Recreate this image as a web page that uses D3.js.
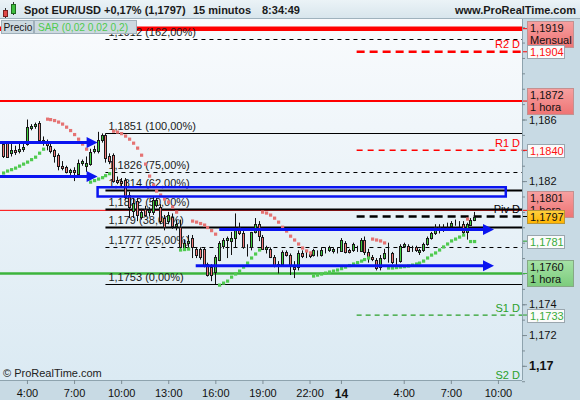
<!DOCTYPE html>
<html>
<head>
<meta charset="utf-8">
<script src="https://cdn.jsdelivr.net/npm/d3@7"></script>
<style>
  body { margin: 0; background: #fff; }
  svg { display: block; font-family: "Liberation Sans", Arial, sans-serif; }
</style>
</head>
<body>
<div id="chart"></div>
<script>
/* global d3 */

// 15 minute bars, first one at 13th 2:30, last one at 14th 8:30
const firstBar = new Date(2017, 8, 13, 2, 30)

const opens = [
  1.1844, 1.1845, 1.1838, 1.1840, 1.1840, 1.1841, 1.1844, 1.1855, 1.1856, 1.1858,
  1.1847, 1.1845, 1.1843, 1.1840, 1.1837, 1.1830, 1.1829, 1.1826, 1.1827, 1.1825,
  1.1832, 1.1830, 1.1831, 1.1840, 1.1840, 1.1847, 1.1850, 1.1836, 1.1837, 1.1821,
  1.1820, 1.1821, 1.1811, 1.1801, 1.1807, 1.1797, 1.1802, 1.1800, 1.1800, 1.1805,
  1.1803, 1.1796, 1.1794, 1.1797, 1.1791, 1.1790, 1.1777, 1.1780, 1.1783, 1.1776,
  1.1776, 1.1776, 1.1766, 1.1764, 1.1761, 1.1769, 1.1778, 1.1782, 1.1781, 1.1783,
  1.1790, 1.1786, 1.1777, 1.1777, 1.1787, 1.1792, 1.1784, 1.1776, 1.1776, 1.1771,
  1.1766, 1.1766, 1.1774, 1.1772, 1.1764, 1.1764, 1.1773, 1.1772, 1.1773, 1.1772,
  1.1773, 1.1772, 1.1775, 1.1775, 1.1775, 1.1775, 1.1775, 1.1780, 1.1775, 1.1775,
  1.1776, 1.1775, 1.1782, 1.1774, 1.1771, 1.1769, 1.1764, 1.1770, 1.1772, 1.1773,
  1.1768, 1.1768, 1.1778, 1.1778, 1.1776, 1.1777, 1.1774, 1.1775, 1.1779, 1.1783,
  1.1786, 1.1789, 1.1790, 1.1791, 1.1791, 1.1793, 1.1792, 1.1792, 1.1787, 1.1792,
  1.1795
]
const highs = [
  1.1846, 1.1846, 1.1845, 1.1843, 1.1845, 1.1846, 1.1860, 1.1857, 1.1858, 1.1859,
  1.1849, 1.1847, 1.1845, 1.1841, 1.1838, 1.1833, 1.1830, 1.1828, 1.1829, 1.1834,
  1.1834, 1.1836, 1.1841, 1.1843, 1.1852, 1.1851, 1.1851, 1.1838, 1.1838, 1.1823,
  1.1822, 1.1822, 1.1813, 1.1809, 1.1809, 1.1802, 1.1804, 1.1803, 1.1810, 1.1809,
  1.1805, 1.1798, 1.1800, 1.1799, 1.1795, 1.1795, 1.1782, 1.1785, 1.1785, 1.1777,
  1.1777, 1.1777, 1.1767, 1.1766, 1.1772, 1.1781, 1.1783, 1.1784, 1.1787, 1.1799,
  1.1793, 1.1788, 1.1779, 1.1787, 1.1796, 1.1794, 1.1785, 1.1778, 1.1777, 1.1772,
  1.1768, 1.1775, 1.1775, 1.1773, 1.1768, 1.1775, 1.1775, 1.1774, 1.1774, 1.1776,
  1.1775, 1.1777, 1.1777, 1.1778, 1.1777, 1.1777, 1.1783, 1.1781, 1.1776, 1.1780,
  1.1778, 1.1783, 1.1784, 1.1776, 1.1772, 1.1770, 1.1772, 1.1776, 1.1780, 1.1774,
  1.1770, 1.1779, 1.1780, 1.1779, 1.1778, 1.1778, 1.1776, 1.1780, 1.1784, 1.1787,
  1.1792, 1.1792, 1.1792, 1.1793, 1.1794, 1.1795, 1.1794, 1.1794, 1.1793, 1.1796,
  1.1800
]
const lows = [
  1.1835, 1.1835, 1.1836, 1.1837, 1.1838, 1.1839, 1.1843, 1.1853, 1.1854, 1.1846,
  1.1843, 1.1840, 1.1838, 1.1832, 1.1827, 1.1827, 1.1825, 1.1824, 1.1820, 1.1824,
  1.1830, 1.1826, 1.1830, 1.1838, 1.1838, 1.1845, 1.1832, 1.1831, 1.1819, 1.1818,
  1.1816, 1.1808, 1.1796, 1.1796, 1.1794, 1.1795, 1.1797, 1.1797, 1.1798, 1.1803,
  1.1792, 1.1788, 1.1792, 1.1789, 1.1788, 1.1776, 1.1776, 1.1777, 1.1770, 1.1770,
  1.1769, 1.1764, 1.1758, 1.1755, 1.1753, 1.1768, 1.1776, 1.1770, 1.1772, 1.1777,
  1.1785, 1.1776, 1.1771, 1.1775, 1.1786, 1.1781, 1.1776, 1.1773, 1.1770, 1.1764,
  1.1760, 1.1765, 1.1771, 1.1759, 1.1757, 1.1762, 1.1770, 1.1770, 1.1770, 1.1771,
  1.1771, 1.1771, 1.1773, 1.1774, 1.1773, 1.1773, 1.1774, 1.1773, 1.1773, 1.1774,
  1.1774, 1.1774, 1.1772, 1.1767, 1.1768, 1.1762, 1.1762, 1.1769, 1.1767, 1.1766,
  1.1765, 1.1767, 1.1777, 1.1774, 1.1774, 1.1774, 1.1772, 1.1774, 1.1778, 1.1782,
  1.1785, 1.1786, 1.1787, 1.1788, 1.1790, 1.1791, 1.1790, 1.1785, 1.1782, 1.1791,
  1.1794
]
const closes = [
  1.1836, 1.1836, 1.1840, 1.1839, 1.1841, 1.1842, 1.1855, 1.1856, 1.1857, 1.1847,
  1.1845, 1.1844, 1.1840, 1.1836, 1.1830, 1.1829, 1.1826, 1.1827, 1.1826, 1.1832,
  1.1833, 1.1832, 1.1839, 1.1841, 1.1847, 1.1850, 1.1835, 1.1833, 1.1820, 1.1820,
  1.1819, 1.1810, 1.1803, 1.1806, 1.1798, 1.1800, 1.1798, 1.1801, 1.1808, 1.1808,
  1.1794, 1.1790, 1.1798, 1.1791, 1.1792, 1.1777, 1.1780, 1.1781, 1.1777, 1.1772,
  1.1771, 1.1765, 1.1759, 1.1759, 1.1771, 1.1780, 1.1782, 1.1783, 1.1783, 1.1789,
  1.1786, 1.1777, 1.1777, 1.1787, 1.1792, 1.1784, 1.1776, 1.1777, 1.1771, 1.1766,
  1.1765, 1.1774, 1.1772, 1.1765, 1.1763, 1.1773, 1.1771, 1.1772, 1.1771, 1.1775,
  1.1773, 1.1775, 1.1775, 1.1777, 1.1776, 1.1775, 1.1782, 1.1774, 1.1774, 1.1779,
  1.1776, 1.1782, 1.1774, 1.1771, 1.1770, 1.1764, 1.1770, 1.1773, 1.1772, 1.1767,
  1.1768, 1.1778, 1.1779, 1.1775, 1.1776, 1.1775, 1.1775, 1.1779, 1.1783, 1.1786,
  1.1790, 1.1790, 1.1790, 1.1791, 1.1793, 1.1793, 1.1792, 1.1787, 1.1792, 1.1795,
  1.1797
]
// parabolic SAR (0,02 0,02 0,2), one value per bar
const sar = [
  1.18253, 1.18266, 1.18275, 1.18285, 1.18298, 1.18311, 1.18324, 1.18340, 1.18356, 1.18382,
  1.18408, 1.18603, 1.18600, 1.18594, 1.18584, 1.18571, 1.18551, 1.18529, 1.18503, 1.18473,
  1.18441, 1.18408, 1.18194, 1.18204, 1.18214, 1.18223, 1.18236, 1.18249, 1.18525, 1.18519,
  1.18509, 1.18493, 1.18473, 1.18447, 1.18415, 1.18369, 1.18311, 1.18233, 1.18175, 1.18136,
  1.18110, 1.18084, 1.18064, 1.18032, 1.17999, 1.17753, 1.17756, 1.17759, 1.17941, 1.17934,
  1.17925, 1.17915, 1.17899, 1.17879, 1.17856, 1.17525, 1.17538, 1.17551, 1.17577, 1.17597,
  1.17616, 1.17642, 1.17668, 1.17701, 1.17727, 1.17753, 1.17999, 1.17993, 1.17980, 1.17960,
  1.17934, 1.17901, 1.17876, 1.17843, 1.17818, 1.17792, 1.17766, 1.17747, 1.17734, 1.17584,
  1.17590, 1.17597, 1.17603, 1.17610, 1.17616, 1.17623, 1.17632, 1.17642, 1.17652, 1.17662,
  1.17671, 1.17681, 1.17691, 1.17701, 1.17824, 1.17818, 1.17812, 1.17799, 1.17636, 1.17636,
  1.17639, 1.17642, 1.17645, 1.17649, 1.17655, 1.17662, 1.17668, 1.17681, 1.17701, 1.17720,
  1.17734, 1.17753, 1.17773, 1.17792, 1.17812, 1.17824, 1.17837, 1.17850, 1.17954, 1.17808,
  1.17808
]

// Fibonacci retracement drawn from the 9:00 bar
const fibStart = new Date(2017, 8, 13, 9, 0)
const fibPcts = [0, 25, 38, 50, 62, 75, 100, 162]
const fibPrices = [1.1753, 1.1777, 1.179, 1.1802, 1.1814, 1.1826, 1.1851, 1.1912]

// daily pivots, start at 14th 1:00
const pivotStart = new Date(2017, 8, 14, 1, 0)
const pivotNames = ['R2 D', 'R1 D', 'Piv D', 'S1 D', 'S2 D']
const pivotPrices = [1.1904, 1.1840, 1.1797, 1.1733, 1.1689]

// full width levels (monthly / hourly)
const levelPrices = [1.1919, 1.1872, 1.1801, 1.1760]

// price boxes on the right axis
const boxPrices = [1.1919, 1.1904, 1.1872, 1.1840, 1.1801, 1.1797, 1.1781, 1.1760, 1.1733]
const boxSubs = ['Mensual', '', '1 hora', '', '1 hora', '', '', '1 hora', '']
const boxKinds = ['red', 'redText', 'red', 'redText', 'red', 'last', 'greenText', 'green', 'greenText']

// hand drawn blue objects
const arrowPrices = [1.1845, 1.1823, 1.17885, 1.1765]
const arrowFrom = [new Date(2017, 8, 13, 1, 0), new Date(2017, 8, 13, 1, 0), new Date(2017, 8, 13, 16, 15), new Date(2017, 8, 13, 14, 45)]
const arrowTo = [new Date(2017, 8, 13, 8, 30), new Date(2017, 8, 13, 8, 30), new Date(2017, 8, 14, 9, 45), new Date(2017, 8, 14, 9, 45)]
const zonePrices = [1.1816, 1.1810]
const zoneFrom = new Date(2017, 8, 13, 8, 30)
const zoneTo = new Date(2017, 8, 14, 10, 30)

// time axis ticks
const xTicks = [
  new Date(2017, 8, 13, 4), new Date(2017, 8, 13, 7), new Date(2017, 8, 13, 10),
  new Date(2017, 8, 13, 13), new Date(2017, 8, 13, 16), new Date(2017, 8, 13, 19),
  new Date(2017, 8, 13, 22), new Date(2017, 8, 14, 0), new Date(2017, 8, 14, 4),
  new Date(2017, 8, 14, 7), new Date(2017, 8, 14, 10)
]

const W = 580
const H = 400
const plot = { left: 0, top: 19, right: 522, bottom: 380 }

const x = d3.scaleTime()
  .domain([new Date(2017, 8, 13, 2, 17), new Date(2017, 8, 14, 11, 32)])
  .range([plot.left, plot.right])
const y = d3.scaleLinear()
  .domain([1.16908, 1.19253])
  .range([plot.bottom, plot.top])

const fmtP = v => String(+v.toFixed(4)).replace('.', ',')
const fmtBox = v => v.toFixed(4).replace('.', ',')
const bars = opens.map((o, i) => ({
  t: new Date(firstBar.getTime() + i * 9e5), o, h: highs[i], l: lows[i], c: closes[i], s: sar[i]
}))

const svg = d3.select('#chart').append('svg')
  .attr('width', W)
  .attr('height', H)

const defs = svg.append('defs')
const grad = (id, a, b) => {
  const g = defs.append('linearGradient').attr('id', id).attr('x1', 0).attr('y1', 0).attr('x2', 0).attr('y2', 1)
  g.append('stop').attr('offset', '0%').attr('stop-color', a)
  g.append('stop').attr('offset', '100%').attr('stop-color', b)
}
grad('bgPlot', '#f9fbfd', '#dbeaf3')
grad('bgHead', '#ebf3f7', '#d7e5ec')
grad('bgRed', '#f7a0a0', '#ee7474')
grad('bgGreen', '#a6e2a6', '#7ccc7c')
grad('bgLast', '#ffd040', '#ffb400')
defs.append('clipPath').attr('id', 'clipPlot')
  .append('rect')
  .attr('x', plot.left).attr('y', plot.top)
  .attr('width', plot.right - plot.left).attr('height', plot.bottom - plot.top)

// backgrounds
svg.append('rect').attr('width', W).attr('height', H).attr('fill', '#c8dae4')
svg.append('rect')
  .attr('x', plot.left).attr('y', plot.top)
  .attr('width', plot.right - plot.left).attr('height', plot.bottom - plot.top)
  .attr('fill', 'url(#bgPlot)')

const g = svg.append('g').attr('clip-path', 'url(#clipPlot)')

// full width levels
const levelColor = ['#ff0000', '#ff0000', '#ff0000', '#3cb43c']
const levelWidth = [4.5, 2, 1, 2.5]
g.selectAll('line.level').data(levelPrices).join('line')
  .attr('x1', plot.left).attr('x2', plot.right)
  .attr('y1', d => y(d)).attr('y2', d => y(d))
  .attr('stroke', (d, i) => levelColor[i])
  .attr('stroke-width', (d, i) => levelWidth[i])

// fibonacci
const fibDashed = [25, 75, 162]
const fibThick = [38, 50, 62]
const fx = x(fibStart)
g.selectAll('line.fib').data(fibPrices).join('line')
  .attr('x1', fx).attr('x2', plot.right)
  .attr('y1', d => Math.round(y(d)) + 0.5).attr('y2', d => Math.round(y(d)) + 0.5)
  .attr('stroke', '#000')
  .attr('stroke-width', (d, i) => fibThick.includes(fibPcts[i]) ? 2 : 1)
  .attr('stroke-dasharray', (d, i) => fibDashed.includes(fibPcts[i]) ? '4,4' : null)
g.selectAll('text.fib').data(fibPrices).join('text')
  .attr('x', fx + 3)
  .attr('y', d => y(d) - 3)
  .attr('font-size', 11)
  .attr('fill', '#1a1a1a')
  .text((d, i) => `${fmtP(d)} (${fibPcts[i]},00%)`)

// pivots
const pivotColor = ['#ff0000', '#ff0000', '#000', '#2aa02a', '#2aa02a']
const pivotWidth = [2.5, 1.5, 2.5, 1.2, 1.2]
const pivotDash = ['8,5', '6,5', '8,5', '5,4', '5,4']
const px = x(pivotStart)
g.selectAll('line.pivot').data(pivotPrices).join('line')
  .attr('x1', px).attr('x2', plot.right)
  .attr('y1', d => y(d)).attr('y2', d => y(d))
  .attr('stroke', (d, i) => pivotColor[i])
  .attr('stroke-width', (d, i) => pivotWidth[i])
  .attr('stroke-dasharray', (d, i) => pivotDash[i])
g.selectAll('text.pivot').data(pivotPrices).join('text')
  .attr('x', plot.right - 2)
  .attr('y', d => Math.min(y(d) - 3.5, plot.bottom - 1))
  .attr('text-anchor', 'end')
  .attr('font-size', 11)
  .attr('fill', (d, i) => pivotColor[i])
  .text((d, i) => pivotNames[i])

// candles
const cx = d => Math.round(x(d.t))
g.append('g').selectAll('line').data(bars).join('line')
  .attr('x1', d => cx(d) + 0.5).attr('x2', d => cx(d) + 0.5)
  .attr('y1', d => y(d.h)).attr('y2', d => y(d.l))
  .attr('stroke', '#111')
g.append('g').selectAll('rect').data(bars).join('rect')
  .attr('x', d => cx(d) - 0.5)
  .attr('width', 2)
  .attr('y', d => Math.round(y(Math.max(d.o, d.c))) + 0.5)
  .attr('height', d => Math.max(0, Math.round(Math.abs(y(d.o) - y(d.c)))))
  .attr('fill', d => d.c > d.o ? '#3fd03f' : (d.c < d.o ? '#f07878' : '#111'))
  .attr('stroke', '#1a1a1a')
  .attr('stroke-width', 1)

// SAR dots
g.append('g').selectAll('rect').data(bars).join('rect')
  .attr('x', d => cx(d) - 1)
  .attr('y', d => y(d.s) - 1.5)
  .attr('width', 3.2).attr('height', 3.2)
  .attr('fill', d => d.s > d.c ? '#e57373' : '#4fca4f')

// blue zone and arrows
const blue = '#0a14f0'
g.append('rect')
  .attr('x', x(zoneFrom)).attr('y', y(zonePrices[0]))
  .attr('width', x(zoneTo) - x(zoneFrom))
  .attr('height', y(zonePrices[1]) - y(zonePrices[0]))
  .attr('fill', 'none').attr('stroke', blue).attr('stroke-width', 2.5)
arrowPrices.forEach((p, i) => {
  const x0 = x(arrowFrom[i])
  const x1 = x(arrowTo[i])
  const yy = y(p)
  g.append('line')
    .attr('x1', x0).attr('x2', x1 - 8)
    .attr('y1', yy).attr('y2', yy)
    .attr('stroke', blue).attr('stroke-width', 3)
  g.append('path')
    .attr('d', `M${x1},${yy} L${x1 - 11},${yy - 5.5} L${x1 - 11},${yy + 5.5} Z`)
    .attr('fill', blue)
})

// copyright
svg.append('text')
  .attr('x', 3).attr('y', 377)
  .attr('font-size', 11).attr('fill', '#222')
  .text('\u00a9 ProRealTime.com')

// frame lines
svg.append('line')
  .attr('x1', plot.right + 0.5).attr('x2', plot.right + 0.5)
  .attr('y1', plot.top).attr('y2', plot.bottom)
  .attr('stroke', '#8ea3ae')
svg.append('line')
  .attr('x1', 0).attr('x2', plot.right)
  .attr('y1', plot.bottom + 0.5).attr('y2', plot.bottom + 0.5)
  .attr('stroke', '#8ea3ae')

// time axis
const xAxis = svg.append('g')
  .attr('transform', `translate(0,${plot.bottom})`)
  .call(d3.axisBottom(x)
    .tickValues(xTicks)
    .tickSize(4)
    .tickPadding(5)
    .tickFormat(d => d.getHours() === 0 ? String(d.getDate()) : d3.timeFormat('%-H:%M')(d)))
xAxis.select('.domain').remove()
xAxis.selectAll('line').attr('stroke', '#7d8d96')
xAxis.selectAll('text')
  .attr('font-family', '"Liberation Sans", Arial, sans-serif')
  .attr('fill', '#111')
  .attr('font-weight', d => d.getHours() === 0 ? 'bold' : null)
  .attr('font-size', d => d.getHours() === 0 ? 12 : 11)

// price box layout (computed first so covered tick labels can be left out)
const boxes = boxPrices.map((p, i) => {
  const two = boxSubs[i] !== ''
  const h = two ? 26 : 13
  const nudge = i === 4 ? -6 : 0 // the 1,1801 box is pushed up by the last price box
  let top = y(p) - h / 2 + nudge
  if (top < plot.top + 2) top = plot.top + 2
  return { p, i, two, h, w: two ? 46 : 37, top: Math.round(top) }
})
const covered = v => boxes.some(b => y(v) > b.top - 3 && y(v) < b.top + b.h + 3)

// price axis
const minor = svg.append('g')
  .attr('transform', `translate(${plot.right},0)`)
  .call(d3.axisRight(y).tickValues(d3.range(1.169, 1.1925, 0.001)).tickSize(3).tickFormat(''))
minor.select('.domain').remove()
minor.selectAll('line').attr('stroke', '#7d8d96')
const yAxis = svg.append('g')
  .attr('transform', `translate(${plot.right},0)`)
  .call(d3.axisRight(y)
    .tickValues(d3.range(1.17, 1.1925, 0.002).filter(v => !covered(v)))
    .tickSize(5)
    .tickPadding(2)
    .tickFormat(d => String(+d.toFixed(3)).replace('.', ',')))
yAxis.select('.domain').remove()
yAxis.selectAll('line').attr('stroke', '#7d8d96')
const isRound = d => Math.abs(d * 100 - Math.round(d * 100)) < 1e-6
yAxis.selectAll('text')
  .attr('font-family', '"Liberation Sans", Arial, sans-serif')
  .attr('fill', '#111')
  .attr('font-size', d => isRound(d) ? 12.5 : 11)
  .attr('font-weight', d => isRound(d) ? 'bold' : null)

// price boxes
const boxStyle = {
  red: { fill: 'url(#bgRed)', stroke: '#c49090', text: '#111', tick: '#ff0000' },
  redText: { fill: '#fbfbfb', stroke: '#9aa6ae', text: '#ff1010', tick: '#ff0000' },
  last: { fill: 'url(#bgLast)', stroke: '#b8963a', text: '#111', tick: '#000' },
  green: { fill: 'url(#bgGreen)', stroke: '#86a886', text: '#111', tick: '#3cb43c' },
  greenText: { fill: '#fbfbfb', stroke: '#9aa6ae', text: '#3aaa3a', tick: '#2aa02a' }
}
const boxG = svg.append('g').attr('font-size', 11)
boxes.forEach(b => {
  const st = boxStyle[boxKinds[b.i]]
  const yc = y(b.p)
  boxG.append('line')
    .attr('x1', plot.right + 1).attr('x2', plot.right + 5)
    .attr('y1', yc).attr('y2', yc)
    .attr('stroke', st.tick)
  boxG.append('rect')
    .attr('x', plot.right + 5.5).attr('y', b.top + 0.5)
    .attr('width', b.w).attr('height', b.h)
    .attr('fill', st.fill).attr('stroke', st.stroke)
  boxG.append('text')
    .attr('x', plot.right + 8).attr('y', b.top + 11)
    .attr('fill', st.text)
    .text(fmtBox(b.p))
  if (b.two) {
    boxG.append('text')
      .attr('x', plot.right + 8).attr('y', b.top + 23)
      .attr('fill', st.text)
      .text(boxSubs[b.i])
  }
})

// header
svg.append('rect').attr('width', W).attr('height', plot.top).attr('fill', 'url(#bgHead)')
svg.append('line')
  .attr('x1', 0).attr('x2', W).attr('y1', plot.top - 0.5).attr('y2', plot.top - 0.5)
  .attr('stroke', '#9fb2bd')
const icon = svg.append('g')
icon.append('line').attr('x1', 5.5).attr('x2', 5.5).attr('y1', 8).attr('y2', 18).attr('stroke', '#333')
icon.append('rect').attr('x', 3.5).attr('y', 10.5).attr('width', 4).attr('height', 6).attr('fill', '#e04848').attr('stroke', '#7a2020')
icon.append('line').attr('x1', 13.5).attr('x2', 13.5).attr('y1', 2).attr('y2', 15).attr('stroke', '#333')
icon.append('rect').attr('x', 11.5).attr('y', 4.5).attr('width', 4).attr('height', 9).attr('fill', '#3fbf3f').attr('stroke', '#1f6a1f')
const head = svg.append('g').attr('font-size', 11).attr('font-weight', 'bold').attr('fill', '#1a1a1a')
head.append('text').attr('x', 24).attr('y', 14).text('Spot EUR/USD')
head.append('text').attr('x', 104).attr('y', 14).text('+0,17% (1,1797)')
head.append('text').attr('x', 193).attr('y', 14).text('15 minutos')
head.append('text').attr('x', 262).attr('y', 14).text('8:34:49')
head.append('text').attr('x', 576).attr('y', 14).attr('text-anchor', 'end').text('www.ProRealTime.com')

// legend
const leg = svg.append('g').attr('font-size', 10.2)
leg.append('rect').attr('x', 1.5).attr('y', 20.5).attr('width', 32).attr('height', 13)
  .attr('fill', '#ccd9e0').attr('stroke', '#9fb0ba')
leg.append('text').attr('x', 3.5).attr('y', 31).attr('fill', '#1a1a1a').text('Precio')
leg.append('rect').attr('x', 34.5).attr('y', 20.5).attr('width', 102).attr('height', 13)
  .attr('fill', '#ccd9e0').attr('stroke', '#9fb0ba')
leg.append('text').attr('x', 38).attr('y', 31).attr('fill', '#4fca4f').text('SAR (0,02 0,02 0,2)')
</script>
</body>
</html>
